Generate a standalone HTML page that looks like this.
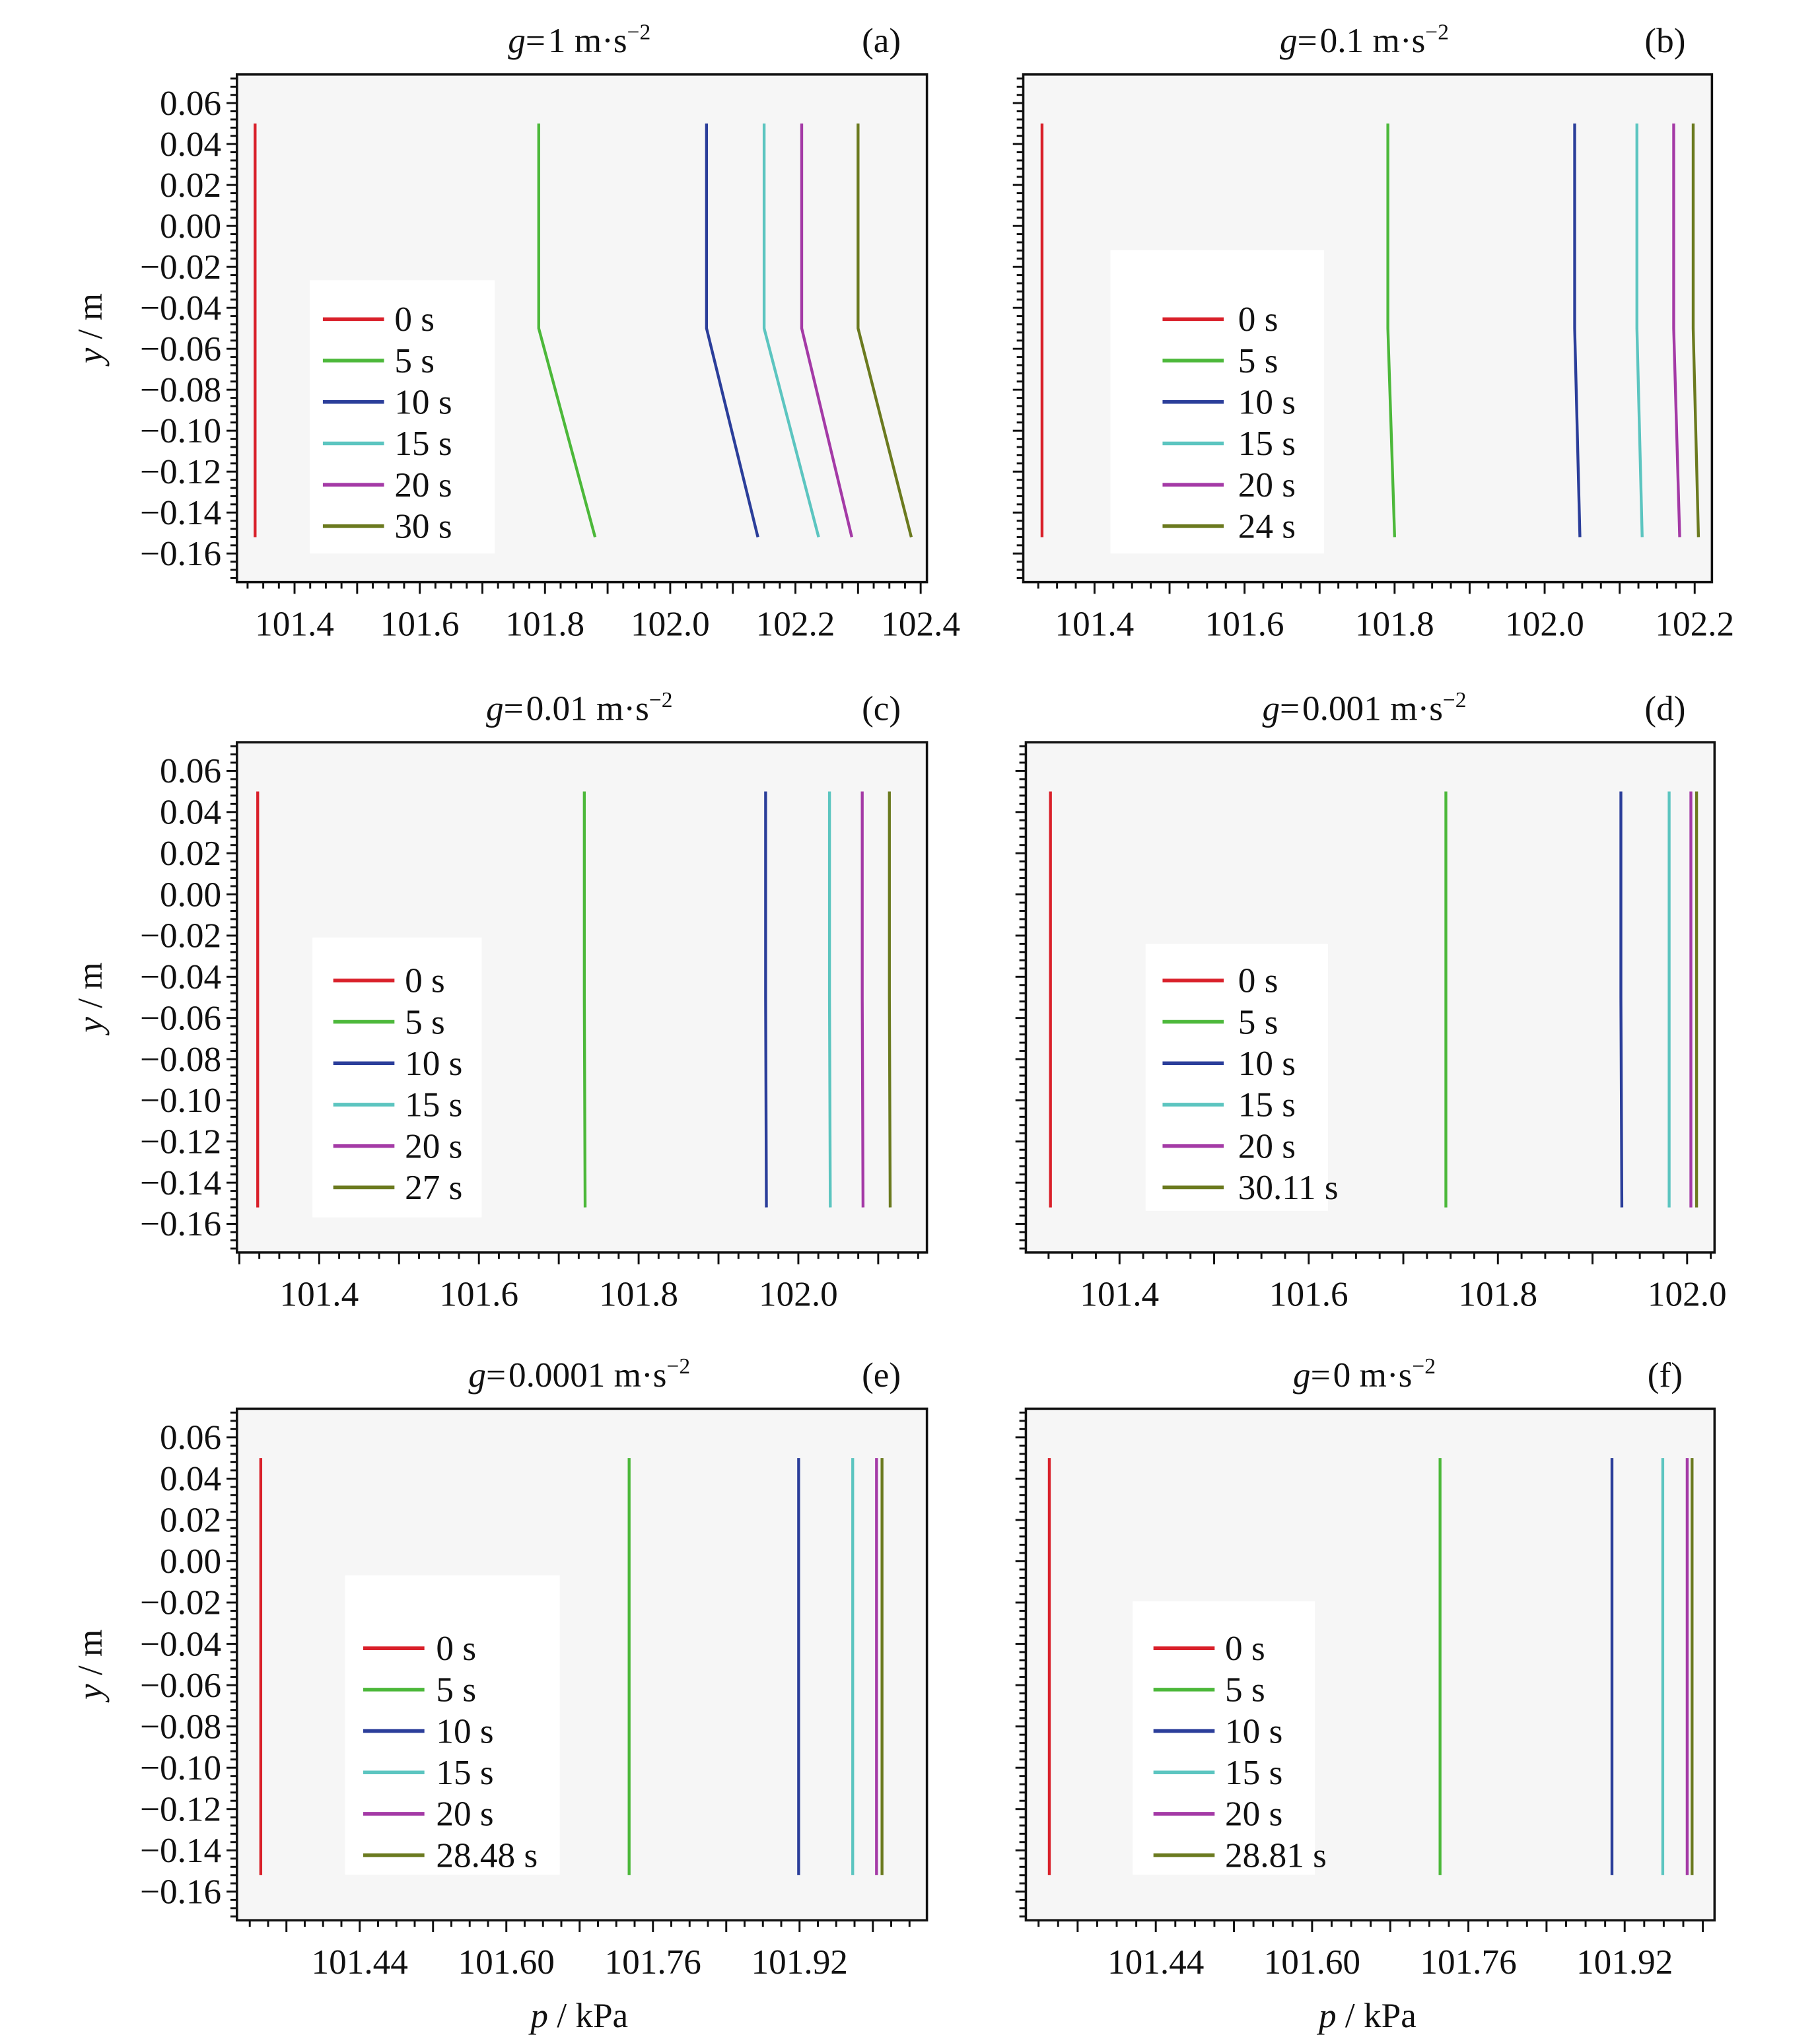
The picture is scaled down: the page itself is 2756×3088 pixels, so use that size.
<!DOCTYPE html>
<html><head><meta charset="utf-8"><style>
html,body{margin:0;padding:0;background:#fff;}
svg{display:block;}
text{font-family:"Liberation Serif",serif;fill:#111;}
</style></head><body>
<svg id="fig" width="2756" height="3088" viewBox="0 0 1398 1566" xmlns="http://www.w3.org/2000/svg"></svg>
<script>
// ---- data ----
const seriesColors = ["#d9202a","#4cb83a","#2b3e9a","#5cc5c0","#a43aa6","#6b7a1f"];
const labelsA = ["0 s","5 s","10 s","15 s","20 s","30 s"];
const labelsB = ["0 s","5 s","10 s","15 s","20 s","24 s"];
const labelsC = ["0 s","5 s","10 s","15 s","20 s","27 s"];
const labelsD = ["0 s","5 s","10 s","15 s","20 s","30.11 s"];
const labelsE = ["0 s","5 s","10 s","15 s","20 s","28.48 s"];
const labelsF = ["0 s","5 s","10 s","15 s","20 s","28.81 s"];
// pressure at top (y=0.05 .. -0.05) and at bottom (y=-0.152), kPa
const pTopA = [101.337,101.79,102.058,102.15,102.21,102.30];
const pBotA = [101.337,101.88,102.14,102.237,102.29,102.385];
const pTopB = [101.33,101.791,102.04,102.123,102.172,102.198];
const pBotB = [101.33,101.80,102.047,102.13,102.18,102.205];
const pTopC = [101.323,101.732,101.959,102.039,102.08,102.114];
const pBotC = [101.323,101.733,101.960,102.040,102.081,102.115];
const pTopD = [101.327,101.745,101.930,101.981,102.004,102.010];
const pBotD = [101.327,101.745,101.931,101.981,102.004,102.010];
const pTopE = [101.332,101.734,101.919,101.978,102.004,102.010];
const pBotE = [101.332,101.734,101.919,101.978,102.004,102.010];
const pTopF = [101.331,101.731,101.907,101.959,101.984,101.989];
const pBotF = [101.331,101.731,101.907,101.959,101.984,101.989];
const yKnots = [0.05,-0.05,-0.152];
const yTickLabels = ["0.06","0.04","0.02","0.00","\u22120.02","\u22120.04","\u22120.06","\u22120.08","\u22120.10","\u22120.12","\u22120.14","\u22120.16"];
const xTicksA = ["101.4","101.6","101.8","102.0","102.2","102.4"];
const xTicksB = ["101.4","101.6","101.8","102.0","102.2"];
const xTicksC = ["101.4","101.6","101.8","102.0"];
const xTicksD = ["101.4","101.6","101.8","102.0"];
const xTicksE = ["101.44","101.60","101.76","101.92"];
const xTicksF = ["101.44","101.60","101.76","101.92"];

const NS="http://www.w3.org/2000/svg";
const svg=document.getElementById('fig');
function mk(tag,attrs,parent){const e=document.createElementNS(NS,tag);for(const k in attrs)e.setAttribute(k,attrs[k]);(parent||svg).appendChild(e);return e;}

const panels=[
 {id:'a',L:182,R:712,T:57,B:447,x0:101.308,x1:102.41,xt:xTicksA,xMaj:0.1,xMin:0.025,top:pTopA,bot:pBotA,lab:labelsA,title:"1",tx:445,lg:{bx:238,by:215,bw:142,bh:210,lx:248,tx:303,y0:245},ylab:true,xlab:false},
 {id:'b',L:786,R:1315,T:57,B:447,x0:101.305,x1:102.223,xt:xTicksB,xMaj:0.1,xMin:0.025,top:pTopB,bot:pBotB,lab:labelsB,title:"0.1",tx:1048,lg:{bx:853,by:192,bw:164,bh:233,lx:893,tx:951,y0:245},ylab:false,xlab:false},
 {id:'c',L:182,R:712,T:570,B:962,x0:101.297,x1:102.161,xt:xTicksC,xMaj:0.1,xMin:0.025,top:pTopC,bot:pBotC,lab:labelsC,title:"0.01",tx:445,lg:{bx:240,by:720,bw:130,bh:215,lx:256,tx:311,y0:753},ylab:true,xlab:false},
 {id:'d',L:788,R:1317,T:570,B:962,x0:101.301,x1:102.029,xt:xTicksD,xMaj:0.1,xMin:0.025,top:pTopD,bot:pBotD,lab:labelsD,title:"0.001",tx:1048,lg:{bx:880,by:725,bw:140,bh:205,lx:893,tx:951,y0:753},ylab:false,xlab:false},
 {id:'e',L:182,R:712,T:1082,B:1475,x0:101.306,x1:102.059,xt:xTicksE,xMaj:0.08,xMin:0.02,top:pTopE,bot:pBotE,lab:labelsE,title:"0.0001",tx:445,lg:{bx:265,by:1210,bw:165,bh:230,lx:279,tx:335,y0:1266},ylab:true,xlab:true},
 {id:'f',L:788,R:1317,T:1082,B:1475,x0:101.307,x1:102.012,xt:xTicksF,xMaj:0.08,xMin:0.02,top:pTopF,bot:pBotF,lab:labelsF,title:"0",tx:1048,lg:{bx:870,by:1230,bw:140,bh:210,lx:886,tx:941,y0:1266},ylab:false,xlab:true}
];

panels.forEach(P=>{
  const g=mk('g',{});
  
  
  const yv0=0.06, yv1=-0.16, py0=P.T+22, py1=P.B-22;
  const Y=v=>py0+(yv0-v)/(yv0-yv1)*(py1-py0);
  const X=v=>P.L+(v-P.x0)/(P.x1-P.x0)*(P.R-P.L);
  const bg=mk('rect',{x:P.L,y:P.T,width:P.R-P.L,height:P.B-P.T,fill:'#f6f6f6'},g);
  
  
  const lb=mk('rect',{x:P.lg.bx,y:P.lg.by,width:P.lg.bw,height:P.lg.bh,fill:'#ffffff'},g);
  
  
  for(let i=0;i<P.top.length;i++){
    const pts=[[P.top[i],yKnots[0]],[P.top[i],yKnots[1]],[P.bot[i],yKnots[2]]].map(q=>X(q[0]).toFixed(2)+','+Y(q[1]).toFixed(2)).join(' ');
    const pl=mk('polyline',{points:pts,fill:'none',stroke:seriesColors[i],'stroke-width':2.2},g);
    
    
  }
  for(let i=0;i<P.lab.length;i++){
    const yy=P.lg.y0+i*31.8;
    const le=mk('g',{},g);
    
    
    mk('line',{x1:P.lg.lx,x2:P.lg.lx+47,y1:yy,y2:yy,stroke:seriesColors[i],'stroke-width':2.8},le);
    const t=mk('text',{x:P.lg.tx,y:yy+9,'font-size':27},le);
    t.textContent=P.lab[i];
  }
  const fr=mk('rect',{x:P.L,y:P.T,width:P.R-P.L,height:P.B-P.T,fill:'none',stroke:'#111','stroke-width':1.8},g);
  
  
  for(let k=0;;k++){const v=0.072-k*0.004; if(v<-0.175)break; const yy=Y(v); if(yy<P.T||yy>P.B)continue;
    const major=Math.abs(Math.round(v*100)/100-v)<1e-6 && Math.round(v*100)%2===0;
    mk('line',{x1:P.L,x2:P.L-(major?8:5),y1:yy,y2:yy,stroke:'#111','stroke-width':1.5},g);}
  if(P.ylab){
    yTickLabels.forEach((s,i)=>{const v=0.06-i*0.02;const t=mk('text',{x:P.L-12,y:Y(v)+9,'font-size':27,'text-anchor':'end'},g);
      
      
      t.textContent=s;});
  }
  const start=Math.ceil(P.x0/P.xMin-1e-6)*P.xMin;
  for(let v=start;v<=P.x1+1e-9;v+=P.xMin){const xx=X(v);
    const r=v/P.xMaj; const major=Math.abs(r-Math.round(r))<1e-4;
    mk('line',{x1:xx,x2:xx,y1:P.B,y2:P.B+(major?9:5),stroke:'#111','stroke-width':1.5},g);}
  P.xt.forEach(s=>{const v=parseFloat(s);const t=mk('text',{x:X(v),y:P.B+41,'font-size':27,'text-anchor':'middle'},g);
    
    
    t.textContent=s;});
  const tt=mk('text',{x:P.tx,y:P.T-17,'font-size':27,'text-anchor':'middle'},g);
  
  
  tt.innerHTML='<tspan font-style="italic">g</tspan>=<tspan dx="2">'+P.title+' m\u00b7s</tspan><tspan dy="-10" font-size="17">\u22122</tspan>';
  const pl=mk('text',{x:(P.id==='a'||P.id==='c'||P.id==='e')?677:1279,y:P.T-17,'font-size':27,'text-anchor':'middle'},g);
  
  
  pl.textContent='('+P.id+')';
  if(P.ylab){const yl=mk('text',{x:0,y:0,'font-size':27,'text-anchor':'middle',transform:'translate(78,'+((P.T+P.B)/2)+') rotate(-90)'},g);
    
    
    yl.innerHTML='<tspan font-style="italic">y</tspan> / m';}
  if(P.xlab){const xl=mk('text',{x:(P.L+P.R)/2-2,y:1557,'font-size':27,'text-anchor':'middle'},g);
    
    
    xl.innerHTML='<tspan font-style="italic">p</tspan> / kPa';}
});
</script>
</body></html>
